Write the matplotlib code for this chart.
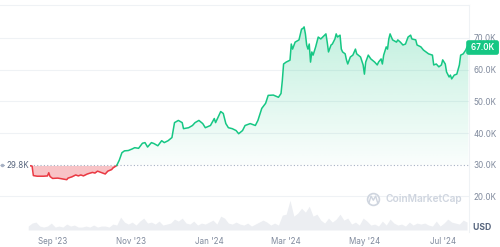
import numpy as np
import pandas as pd
import matplotlib
matplotlib.use("Agg")
import matplotlib.pyplot as plt
import matplotlib.dates as mdates

plt.rcParams['font.family'] = ['Inter', 'DejaVu Sans']

price_dates = [
    # red section
    "2023-08-13", "2023-08-16", "2023-08-17", "2023-08-20", "2023-08-25", "2023-08-28", "2023-08-29",
    "2023-08-30", "2023-09-01", "2023-09-05", "2023-09-08", "2023-09-12", "2023-09-13", "2023-09-16",
    "2023-09-19", "2023-09-21", "2023-09-23", "2023-09-25", "2023-09-28", "2023-10-02", "2023-10-04",
    "2023-10-06", "2023-10-10", "2023-10-12", "2023-10-14", "2023-10-17", "2023-10-18", "2023-10-21",
    # green section
    "2023-10-23", "2023-10-25", "2023-10-27", "2023-10-30", "2023-11-02",
    "2023-11-04", "2023-11-07", "2023-11-10", "2023-11-12", "2023-11-14", "2023-11-17", "2023-11-19",
    "2023-11-22", "2023-11-25", "2023-11-27", "2023-11-30", "2023-12-03", "2023-12-05", "2023-12-08",
    "2023-12-11", "2023-12-12", "2023-12-16", "2023-12-19", "2023-12-21", "2023-12-24", "2023-12-27",
    "2023-12-29", "2024-01-02", "2024-01-05", "2024-01-06", "2024-01-10", "2024-01-12", "2024-01-14",
    "2024-01-16", "2024-01-19", "2024-01-22", "2024-01-24", "2024-01-27", "2024-01-29", "2024-02-02",
    "2024-02-06", "2024-02-08", "2024-02-11", "2024-02-14", "2024-02-16", "2024-02-20", "2024-02-24",
    "2024-02-26", "2024-02-27", "2024-02-28", "2024-03-01", "2024-03-04", "2024-03-05", "2024-03-06",
    "2024-03-08", "2024-03-11", "2024-03-13", "2024-03-14", "2024-03-15", "2024-03-16", "2024-03-17",
    "2024-03-18", "2024-03-19", "2024-03-20", "2024-03-21", "2024-03-22", "2024-03-24", "2024-03-26",
    "2024-03-28", "2024-03-31", "2024-04-01", "2024-04-02", "2024-04-03", "2024-04-05", "2024-04-06",
    "2024-04-08", "2024-04-09", "2024-04-10", "2024-04-12", "2024-04-13", "2024-04-14", "2024-04-16",
    "2024-04-17", "2024-04-18", "2024-04-20", "2024-04-22", "2024-04-24", "2024-04-25", "2024-04-28",
    "2024-04-30", "2024-05-01", "2024-05-02", "2024-05-04", "2024-05-06", "2024-05-09", "2024-05-11",
    "2024-05-12", "2024-05-14", "2024-05-15", "2024-05-16", "2024-05-18", "2024-05-19", "2024-05-20",
    "2024-05-21", "2024-05-22", "2024-05-23", "2024-05-26", "2024-05-27", "2024-05-29", "2024-05-31",
    "2024-06-02", "2024-06-04", "2024-06-06", "2024-06-07", "2024-06-10", "2024-06-11", "2024-06-14",
    "2024-06-16", "2024-06-18", "2024-06-20", "2024-06-23", "2024-06-24", "2024-06-26", "2024-06-28",
    "2024-06-30", "2024-07-01", "2024-07-03", "2024-07-04", "2024-07-06", "2024-07-07", "2024-07-08",
    "2024-07-10", "2024-07-12", "2024-07-14", "2024-07-15", "2024-07-17", "2024-07-19", "2024-07-20",
    "2024-07-21",
]
prices_k = [
    29.8, 29.6, 26.6, 26.4, 26.4, 26.5, 27.5,
    26.3, 25.7, 25.8, 25.6, 25.3, 25.8, 26.2,
    26.8, 26.5, 26.8, 26.5, 27.1, 27.6, 27.4,
    28.0, 27.4, 27.1, 28.0, 28.5, 29.0, 29.8,
    31.5, 33.8, 34.4, 34.5, 35.0,
    35.4, 35.2, 36.8, 37.0, 35.6, 37.0, 36.7,
    36.0, 37.6, 37.0, 37.6, 38.6, 43.3, 44.0,
    43.3, 41.4, 41.7, 42.4, 43.3, 44.0, 43.0,
    41.7, 42.4, 44.6, 43.3, 46.8, 46.2, 43.0,
    41.7, 41.4, 40.8, 39.8, 40.8, 42.4, 43.0,
    42.4, 44.0, 47.8, 49.4, 51.9, 52.0, 51.3,
    52.5, 56.5, 61.8, 62.4, 63.0, 68.1, 66.5,
    68.7, 69.4, 72.8, 73.0, 73.5, 71.3, 67.8,
    66.5, 68.1, 62.4, 65.6, 64.6, 67.2, 70.3,
    69.7, 70.9, 71.3, 68.7, 65.6, 67.8, 68.1,
    69.7, 71.3, 70.3, 70.9, 66.5, 65.6, 65.0,
    63.1, 61.8, 64.0, 64.6, 66.5, 65.0, 64.0,
    61.5, 58.6, 62.4, 64.6, 63.4, 62.4, 61.5,
    62.4, 63.4, 61.8, 64.6, 67.2, 66.5, 69.7,
    71.3, 70.3, 69.4, 68.7, 69.4, 68.7, 67.8,
    68.1, 70.3, 70.9, 69.7, 69.4, 67.8, 67.2,
    66.2, 65.6, 65.0, 64.6, 61.5, 61.8, 60.9,
    61.5, 63.1, 61.8, 59.3, 57.7, 58.3, 57.1,
    58.3, 58.6, 61.5, 64.6, 65.0, 66.2, 67.2,
    67.0,
]
split_date = "2023-10-21"
baseline_k = 29.8
last_k = 67.0

volume_start = "2023-08-13"
volume_b = [
    12, 21, 24, 12, 9, 12, 21, 9, 12, 9, 18, 12, 15, 9, 9, 12, 9, 15, 9, 12,
    12, 9, 18, 15, 39, 24, 18, 24, 15, 27, 36, 21, 24, 18, 27, 15, 18, 21, 33, 27,
    36, 21, 18, 27, 15, 21, 18, 24, 30, 18, 42, 36, 21, 18, 24, 18, 15, 21, 12, 18,
    24, 30, 24, 15, 21, 15, 45, 48, 90, 42, 51, 66, 54, 72, 42, 48, 30, 21, 36, 24,
    33, 48, 30, 36, 18, 24, 15, 36, 27, 15, 18, 12, 27, 15, 33, 21, 15, 18, 12, 24,
    15, 21, 18, 21, 15, 12, 27, 12, 21, 33, 24, 21, 18, 30, 24,
]

y_ticks = [20, 30, 40, 50, 60, 70]
x_ticks = ["2023-09-01", "2023-11-01", "2024-01-01", "2024-03-01", "2024-05-01", "2024-07-01"]

GREEN = "#16c784"
RED = "#ea3943"
GRAY = "#808a9d"
GRID = "#eff2f5"
YLO, YHI = 8.8, 80.41

dates = pd.to_datetime(price_dates)
vals = np.array(prices_k)
k = price_dates.index(split_date)

fig = plt.figure(figsize=(5.0, 2.47), dpi=100)
pos = [0.0, 1 - 232 / 247, 469 / 500, 227 / 247]
xmin = pd.Timestamp("2023-07-22")
xmax = pd.Timestamp("2024-07-21 12:00")

# volume axes (behind)
axv = fig.add_axes(pos)
vdates = pd.date_range(volume_start, periods=len(volume_b), freq="3D")
axv.fill_between(vdates, volume_b, 0, color="#eceef2", lw=0)
axv.set_xlim(xmin, xmax)
axv.set_ylim(-6, 681)
axv.axis("off")

ax = fig.add_axes(pos)
ax.set_facecolor("none")

for t in [20, 40, 50, 60, 70]:
    ax.axhline(t, color=GRID, lw=0.8, zorder=0)

# baseline dotted
ax.axhline(baseline_k, color="#a6b0c3", lw=0.8, ls=(0, (1, 2)), zorder=2)

# red part
rd, rv = dates[:k + 1], vals[:k + 1]
ax.fill_between(rd, rv, baseline_k, color=RED, alpha=0.3, lw=0, zorder=1)
ax.plot(rd, rv, color=RED, lw=1.1, zorder=3, solid_joinstyle="round")

# green part with gradient
gd, gv = dates[k:], vals[k:]
poly = ax.fill_between(gd, gv, baseline_k, facecolor="none", edgecolor="none")
img = np.zeros((256, 1, 4))
img[..., :3] = matplotlib.colors.to_rgb(GREEN)
img[..., 3] = np.linspace(0.02, 0.26, 256).reshape(-1, 1)
im = ax.imshow(img, extent=[mdates.date2num(gd[0]), mdates.date2num(gd[-1]), baseline_k, max(gv)],
               origin="lower", aspect="auto", zorder=1, interpolation="bilinear")
im.set_clip_path(poly.get_paths()[0], transform=ax.transData)
ax.plot(gd, gv, color=GREEN, lw=1.1, zorder=3, solid_joinstyle="round")
ax.set_xlim(xmin, xmax)
ax.set_ylim(YLO, YHI)

# axes styling
for s in ["left", "bottom"]:
    ax.spines[s].set_visible(False)
for s in ["top", "right"]:
    ax.spines[s].set_color(GRID)
    ax.spines[s].set_linewidth(0.8)
ax.yaxis.tick_right()
ax.set_yticks(y_ticks)
ax.set_yticklabels([f"{t:.1f}K" for t in y_ticks])
ax.set_xticks(pd.to_datetime(x_ticks))
ax.xaxis.set_major_formatter(mdates.DateFormatter("%b '%y"))
ax.tick_params(axis="y", length=0, pad=3, labelsize=5.8, labelcolor=GRAY)
ax.tick_params(axis="x", length=0, pad=3.5, labelsize=5.8, labelcolor=GRAY)

# USD label
ax.text(1.0, 0.018, "  USD", transform=ax.transAxes, ha="left", va="center",
        fontsize=6.2, color="#58667e", fontweight="bold")

# baseline label on left
ax.plot([mdates.date2num(xmin) + 1.5], [baseline_k], marker="o", ms=1.5, color="#a6b0c3", zorder=4)
ax.text(mdates.date2num(xmin) + 5, baseline_k, f"{baseline_k:.1f}K", ha="left", va="center",
        fontsize=5.8, color="#58667e", zorder=5,
        bbox=dict(boxstyle="square,pad=0.15", fc="white", ec="none"))

# current price tag
ax.text(1.0, (last_k - YLO) / (YHI - YLO), f" {last_k:.1f}K ", transform=ax.transAxes,
        ha="left", va="center", fontsize=5.8, color="white", fontweight="semibold",
        bbox=dict(boxstyle="round,pad=0.35,rounding_size=0.3", fc=GREEN, ec="none"), zorder=6,
        clip_on=False)

# watermark
wm_color = "#cfd5df"
ax.plot([0.796], [0.145], transform=ax.transAxes, marker="o", ms=8.5, mfc="none", mec=wm_color,
        mew=1.2, zorder=2)
ax.plot([0.787, 0.791, 0.796, 0.801, 0.805], [0.13, 0.158, 0.14, 0.158, 0.13], transform=ax.transAxes,
        color=wm_color, lw=1.0, zorder=2)
ax.text(0.822, 0.145, "CoinMarketCap", transform=ax.transAxes, ha="left", va="center",
        fontsize=7.3, color=wm_color, fontweight="semibold", zorder=2)

fig.savefig("out.png", dpi=100)
